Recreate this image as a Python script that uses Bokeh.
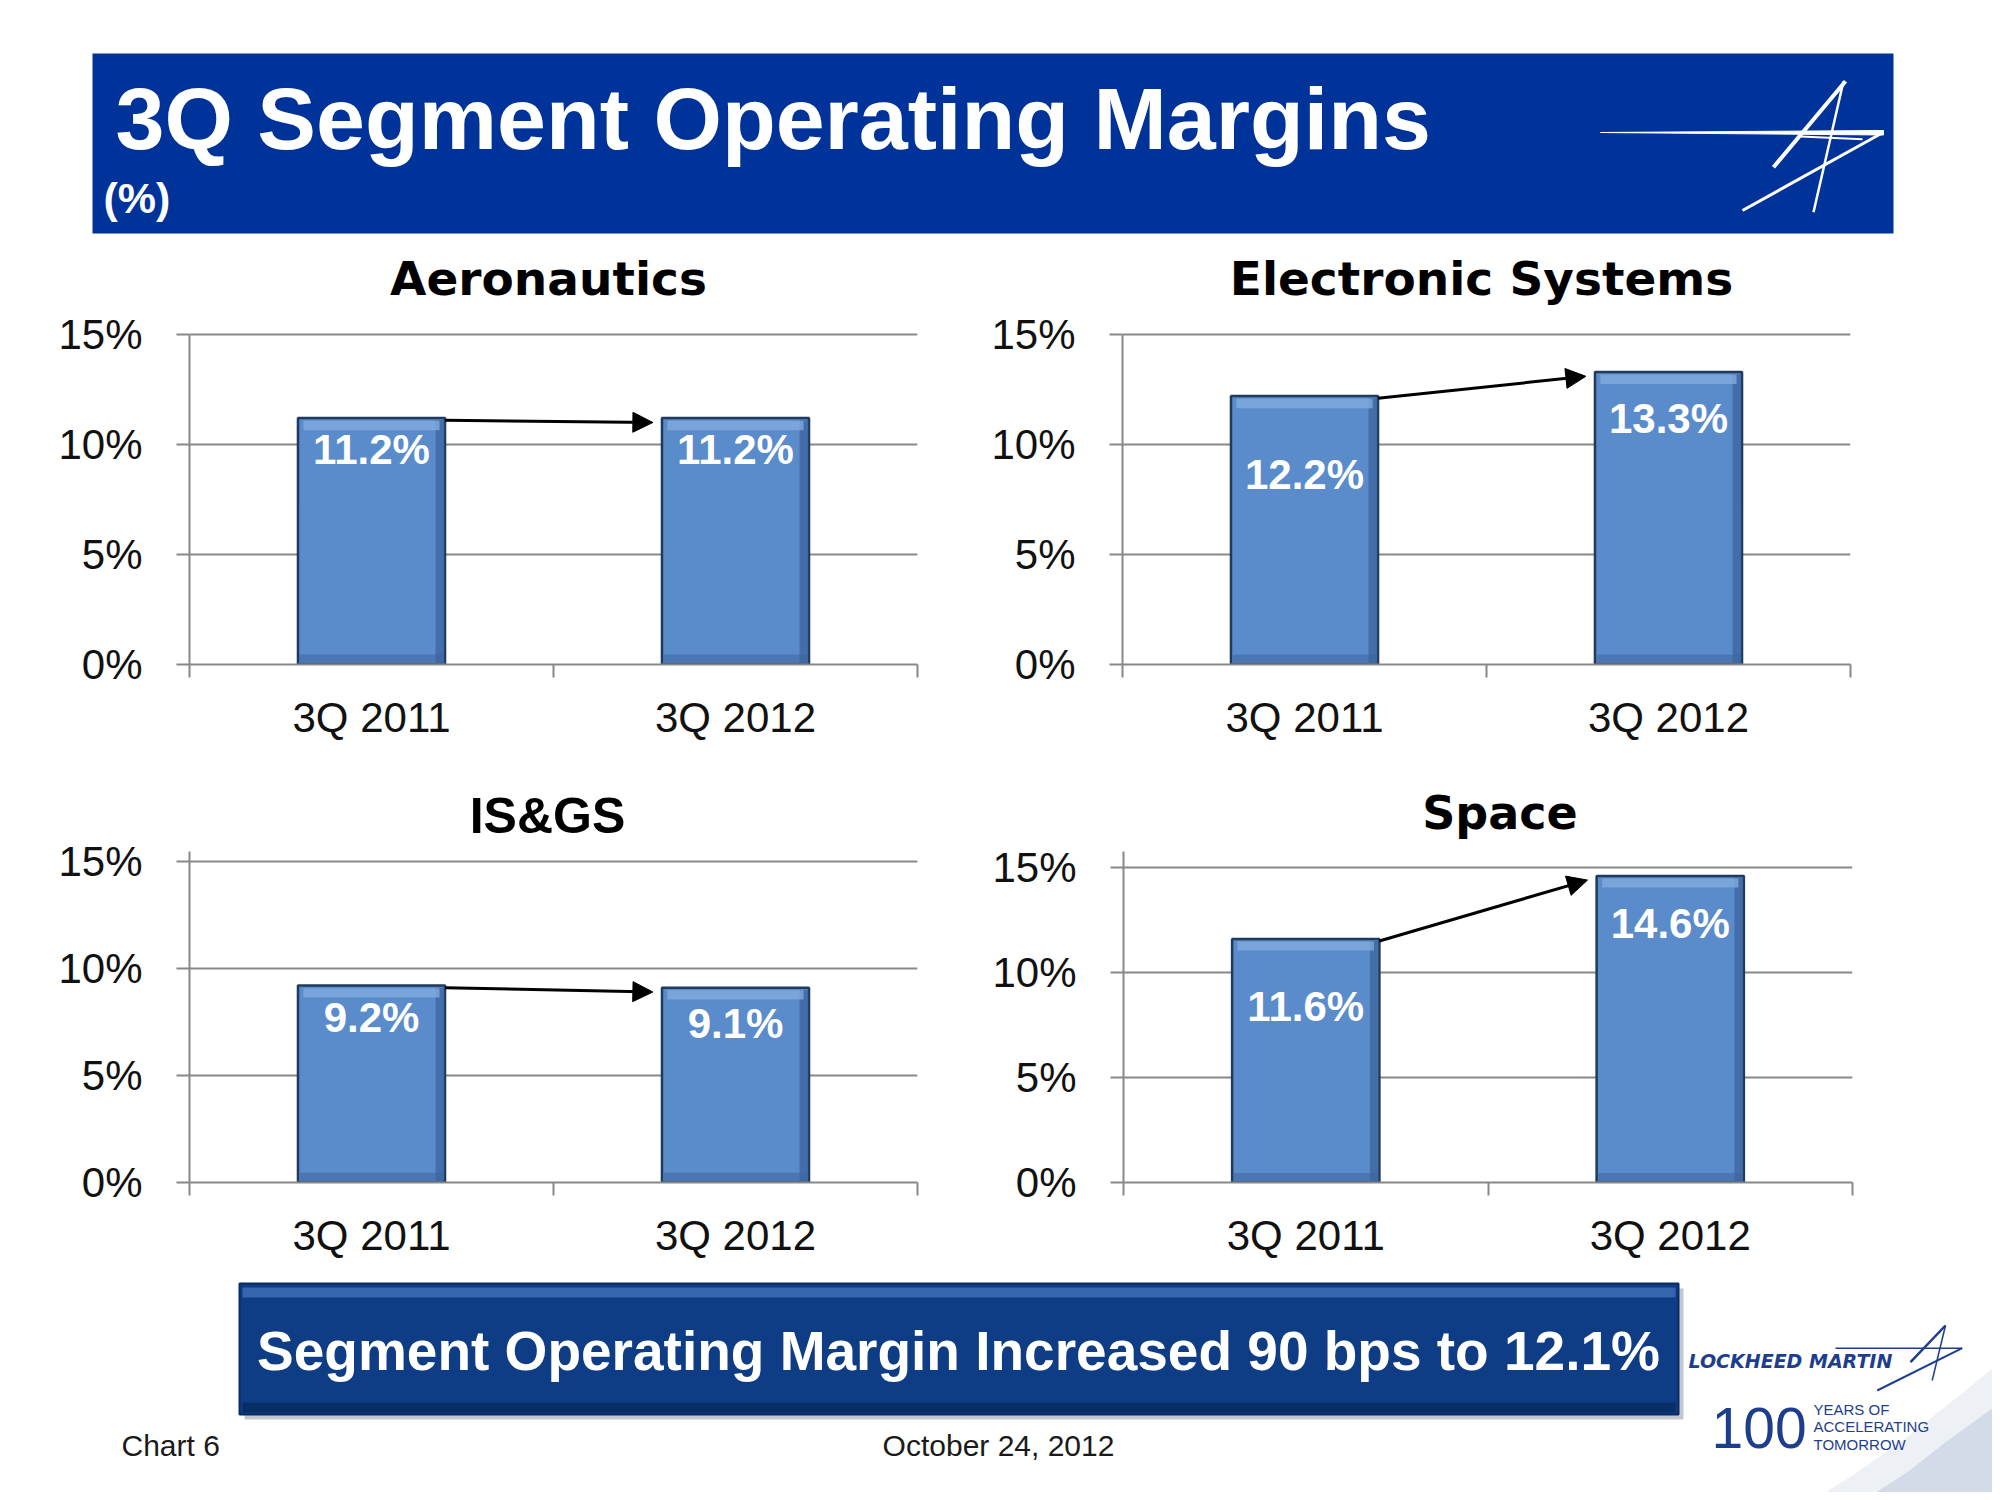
from bokeh.plotting import figure
from bokeh.layouts import column, row
from bokeh.models import Range1d, FixedTicker, Arrow, NormalHead
from bokeh.core.properties import value
from bokeh.embed import file_html
from bokeh.resources import INLINE

# ---------------- data ----------------
categories = ["3Q 2011", "3Q 2012"]
segment_names = ["Aeronautics", "Electronic Systems", "IS&GS", "Space"]
aeronautics = [11.2, 11.2]
electronic_systems = [12.2, 13.3]
isgs = [9.2, 9.1]
space = [11.6, 14.6]
y_ticks = [0, 5, 10, 15]
y_tick_labels = ["0%", "5%", "10%", "15%"]
title_text = "3Q Segment Operating Margins"
subtitle_text = "(%)"
banner_text = "Segment Operating Margin Increased 90 bps to 12.1%"
footer_left = "Chart 6"
footer_date = "October 24, 2012"
logo_name = "LOCKHEED MARTIN"
logo_years = "100"
logo_lines = ["YEARS OF", "ACCELERATING", "TOMORROW"]

# ---------------- styles ----------------
W = 1992
GRAY = "#888888"
BAR_FILL = "#5A8BCA"
BAR_LINE = "#1F3A5C"
BAR_HI = "#86AEDF"
BAR_DARK = "#3A639C"
BAR_W = 0.404
HEADER_BLUE = "#00339A"
NAVY = "#1D3E8C"
SANS = "Liberation Sans"


def make_chart(name, vals, frame_w, frame_h, px_per_unit, axis_top, bl, br, bb,
               t_font, t_size, t_lift, t_shift, drops):
    # the frame reaches up to hold the chart title; the axis is bounded to 0..axis_top
    y_top = frame_h / px_per_unit
    p = figure(x_range=Range1d(0, 2), y_range=Range1d(0, y_top),
               frame_width=frame_w, frame_height=frame_h,
               min_border_left=bl, min_border_right=br,
               min_border_top=0, min_border_bottom=bb,
               output_backend="svg", toolbar_location=None)
    p.outline_line_color = None
    p.background_fill_color = "white"
    p.border_fill_color = "white"

    xs = [i + 0.5 for i in range(len(categories))]

    # axes
    p.xaxis.ticker = FixedTicker(ticks=xs, minor_ticks=list(range(len(categories) + 1)))
    p.xaxis.major_label_overrides = {x: c for x, c in zip(xs, categories)}
    p.xaxis.major_tick_line_color = None
    p.xaxis.major_tick_out = 13
    p.xaxis.major_tick_in = 0
    p.xaxis.minor_tick_out = 13
    p.xaxis.minor_tick_in = 0
    p.xaxis.minor_tick_line_color = GRAY
    p.xaxis.minor_tick_line_width = 2
    p.xaxis.axis_line_color = GRAY
    p.xaxis.axis_line_width = 2
    p.xaxis.major_label_text_font = SANS
    p.xaxis.major_label_text_font_size = "42px"
    p.xaxis.major_label_text_color = "#111111"
    p.xaxis.major_label_standoff = 16

    p.yaxis.bounds = (0, axis_top)
    p.yaxis.ticker = FixedTicker(ticks=y_ticks, minor_ticks=[])
    p.yaxis.major_label_overrides = dict(zip(y_ticks, y_tick_labels))
    p.yaxis.major_tick_out = 13
    p.yaxis.major_tick_in = 0
    p.yaxis.major_tick_line_color = GRAY
    p.yaxis.major_tick_line_width = 2
    p.yaxis.axis_line_color = GRAY
    p.yaxis.axis_line_width = 2
    p.yaxis.major_label_text_font = SANS
    p.yaxis.major_label_text_font_size = "42px"
    p.yaxis.major_label_text_color = "#111111"
    p.yaxis.major_label_standoff = 34

    p.xgrid.visible = False
    p.ygrid.ticker = FixedTicker(ticks=y_ticks, minor_ticks=[])
    p.ygrid.grid_line_color = GRAY
    p.ygrid.grid_line_width = 2

    # chart title
    p.text(x=[1.0], y=[y_ticks[-1]], text=[name], x_offset=t_shift, y_offset=-t_lift,
           text_font=value(t_font), text_font_style="bold", text_font_size=f"{t_size}px",
           text_color="black", text_align="center", text_baseline="middle")

    # bars
    p.vbar(x=xs, top=vals, bottom=0, width=BAR_W, fill_color=BAR_FILL,
           line_color=BAR_LINE, line_width=2.5)
    # bevel: darker right edge, darker bottom, lighter top band
    p.vbar(x=[x + BAR_W / 2 - 0.014 for x in xs], top=[v - 0.1 for v in vals], bottom=0.05,
           width=0.024, fill_color=BAR_DARK, fill_alpha=0.7, line_color=None)
    p.vbar(x=xs, top=0.45, bottom=0.05, width=BAR_W - 0.01,
           fill_color=BAR_DARK, fill_alpha=0.5, line_color=None)
    p.vbar(x=xs, top=[v - 0.12 for v in vals], bottom=[v - 0.55 for v in vals],
           width=BAR_W - 0.03, fill_color=BAR_HI, fill_alpha=0.75, line_color=None)

    # value labels
    for x, v, d in zip(xs, vals, drops):
        p.text(x=[x], y=[v], text=[f"{v:.1f}%"], y_offset=d,
               text_font=value(SANS), text_font_style="bold",
               text_font_size="42px", text_color="white",
               text_align="center", text_baseline="middle")

    # change arrow
    p.add_layout(Arrow(end=NormalHead(size=20, fill_color="black", line_color="black"),
                       x_start=xs[0] + BAR_W / 2, y_start=vals[0] - 0.1,
                       x_end=xs[1] - BAR_W / 2 - 0.025, y_end=vals[1] - 0.2,
                       line_width=3, line_color="black"))
    return p


HDR_H = 236
ROW1_BOT = 104
ROW2_BOT = 86
FTR_H = 224

p1 = make_chart(segment_names[0], aeronautics, 728, 428, 22.0, 15, 189, 61, ROW1_BOT,
                "DejaVu Sans", 47, 56, -5, [31, 31])
p2 = make_chart(segment_names[1], electronic_systems, 728, 428, 22.0, 15, 144, 142, ROW1_BOT,
                "DejaVu Sans", 47, 56, -5, [78, 47])
p3 = make_chart(segment_names[2], isgs, 728, 414, 21.4, 15.47, 189, 61, ROW2_BOT,
                SANS, 50, 45.5, -6, [32, 36])
p4 = make_chart(segment_names[3], space, 729, 414, 21.0, 15.76, 145, 140, ROW2_BOT,
                "DejaVu Sans", 46, 54.5, 12, [68, 48])


def blank(h):
    f = figure(x_range=Range1d(0, W), y_range=Range1d(h, 0),
               frame_width=W, frame_height=h, min_border=0,
               x_axis_location=None, y_axis_location=None,
               output_backend="svg", toolbar_location=None)
    f.grid.visible = False
    f.outline_line_color = None
    f.background_fill_color = "white"
    f.border_fill_color = "white"
    return f


# ---------------- header (page coordinates) ----------------
hdr = blank(HDR_H)
hdr.quad(left=[92], right=[1893], top=[53], bottom=[233], fill_color=HEADER_BLUE, line_color=None)
hdr.text(x=[115], y=[118], text=[title_text], text_font=value(SANS), text_font_style="bold",
         text_font_size="88px", text_color="white", text_baseline="middle")
hdr.text(x=[103], y=[197], text=[subtitle_text], text_font=value(SANS), text_font_style="bold",
         text_font_size="43px", text_color="white", text_baseline="middle")
# star logo
hdr.patch(x=[1600, 1883, 1883], y=[132, 130, 134.5], fill_color="white", line_color="white", line_width=1)
hdr.segment(x0=[1845, 1843, 1883, 1800], y0=[80.7, 80.7, 131.7, 136],
            x1=[1773, 1813, 1742, 1862], y1=[166.7, 211.7, 210, 138.7],
            line_color="white", line_width=[4, 2.5, 3, 2])

# ---------------- footer (x: page, y: page - 1268) ----------------
ftr = blank(FTR_H)
# light swoosh bottom right
ftr.patch(x=[1992, 1955, 1905, 1855, 1825, 1992], y=[100, 130, 170, 205, 224, 224],
          fill_color="#edf1f6", line_color=None)
ftr.patch(x=[1992, 1950, 1905, 1875, 1992], y=[140, 170, 205, 224, 224],
          fill_color="#d3dbe8", line_color=None)
# banner shadow + banner
ftr.quad(left=[244], right=[1683], top=[20], bottom=[151], fill_color="#9aa3b0", line_color=None, fill_alpha=0.6)
ftr.quad(left=[239], right=[1678], top=[15], bottom=[146], fill_color="#0E3C85", line_color="#0a2c63", line_width=2)
ftr.quad(left=[242], right=[1675], top=[19], bottom=[29], fill_color="#3F6FB6", line_color=None, fill_alpha=0.8)
ftr.quad(left=[242], right=[1675], top=[134], bottom=[144], fill_color="#082a5e", line_color=None, fill_alpha=0.8)
ftr.text(x=[958], y=[82], text=[banner_text], text_font=value(SANS), text_font_style="bold",
         text_font_size="55px", text_color="white", text_align="center", text_baseline="middle")
ftr.text(x=[121], y=[177], text=[footer_left], text_font=value(SANS), text_font_size="30px",
         text_color="#1a1a1a", text_baseline="middle")
ftr.text(x=[998], y=[177], text=[footer_date], text_font=value(SANS), text_font_size="30px",
         text_color="#1a1a1a", text_align="center", text_baseline="middle")
# Lockheed Martin logo
ftr.text(x=[1688], y=[92], text=[logo_name], text_font=value("DejaVu Sans"), text_font_style="bold italic",
         text_font_size="19px", text_color=NAVY, text_baseline="middle")
ftr.segment(x0=[1835, 1945, 1945, 1961.7], y0=[79.7, 57, 57, 79.7],
            x1=[1961.7, 1910, 1931.7, 1876.7], y1=[79.7, 93.7, 112, 122],
            line_color=NAVY, line_width=[1.5, 2.5, 1.5, 2])
ftr.text(x=[1711], y=[159], text=[logo_years], text_font=value(SANS),
         text_font_size="57px", text_color=NAVY, text_baseline="middle")
ftr.text(x=[1813, 1813, 1813], y=[141, 158, 176], text=logo_lines, text_font=value(SANS),
         text_font_size="15px", text_color=NAVY, text_baseline="middle")

layout = column(hdr, row(p1, p2), row(p3, p4), ftr)
open("out.html", "w").write(file_html(layout, INLINE))
